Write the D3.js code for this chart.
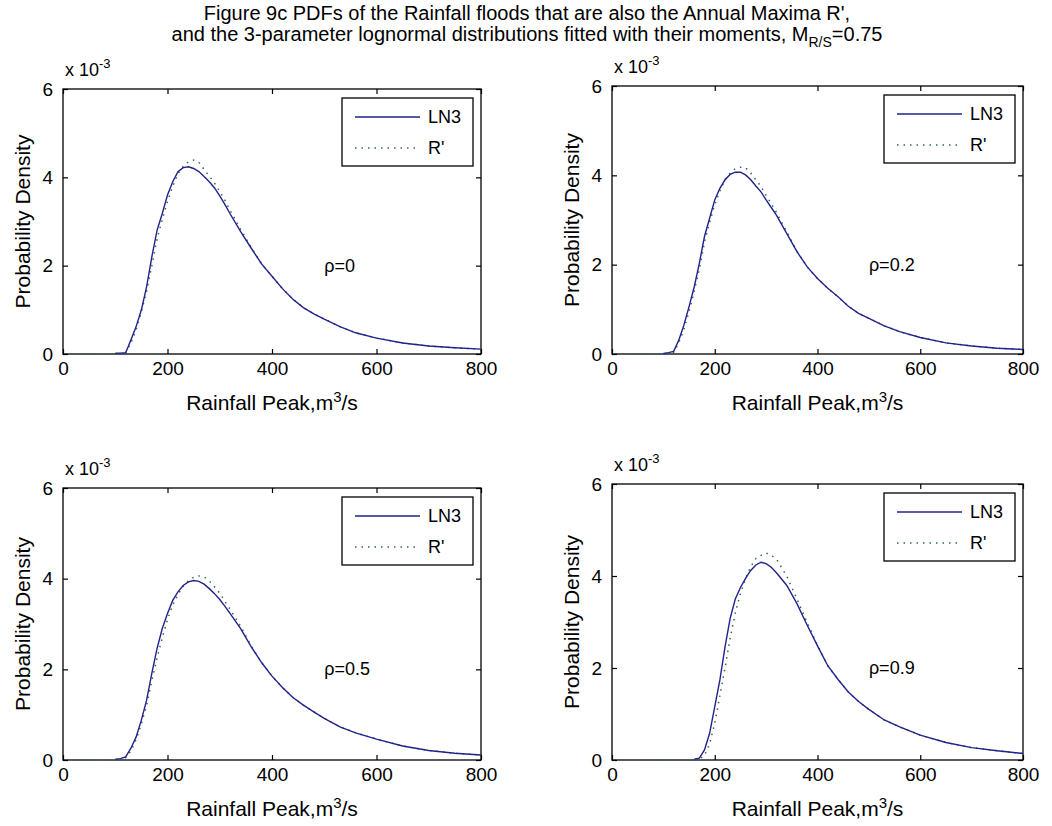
<!DOCTYPE html>
<html>
<head>
<meta charset="utf-8">
<script src="https://cdn.jsdelivr.net/npm/d3@7"></script>
<style>
  html, body { margin: 0; padding: 0; background: #fff; }
  svg { display: block; font-family: "Liberation Sans", Arial, Helvetica, sans-serif; }
</style>
</head>
<body>
<svg id="fig" width="1052" height="826"></svg>
<script>
// Rainfall peak (m^3/s) at which each density value below is given
const peakGrid = [20, 30, 40, 60, 80, 100, 110, 120, 130, 140, 150, 160, 170, 180, 190, 200,
  210, 220, 230, 240, 250, 260, 270, 280, 290, 300, 310, 320, 340, 360, 380, 400,
  420, 440, 460, 480, 500, 530, 560, 600, 650, 700, 750, 800];

// Probability density, in units of 1e-3 (null = not plotted there)
const ln3Rho0 = [null, null, null, null, null, 0.02, 0.02, 0.03, 0.32, 0.62, 1.0, 1.52, 2.2, 2.8, 3.18, 3.6,
  3.9, 4.13, 4.22, 4.24, 4.2, 4.13, 4.02, 3.9, 3.76, 3.58, 3.38, 3.17, 2.77, 2.4, 2.04, 1.76,
  1.48, 1.24, 1.05, 0.91, 0.79, 0.62, 0.48, 0.36, 0.25, 0.18, 0.14, 0.11];
const rPrimeRho0 = [0, 0, 0, 0, 0, 0, 0.01, 0.03, 0.25, 0.55, 0.95, 1.42, 2.0, 2.6, 3.05, 3.45,
  3.8, 4.08, 4.25, 4.35, 4.39, 4.34, 4.18, 4.03, 3.87, 3.68, 3.48, 3.25, 2.82, 2.42, 2.04, 1.76,
  1.48, 1.24, 1.05, 0.91, 0.79, 0.62, 0.48, 0.36, 0.25, 0.18, 0.14, 0.11];

const ln3Rho02 = [null, null, null, null, null, 0.01, 0.03, 0.06, 0.31, 0.65, 1.06, 1.5, 2.03, 2.63, 3.04, 3.45,
  3.71, 3.9, 4.02, 4.07, 4.07, 4.01, 3.9, 3.76, 3.63, 3.45, 3.28, 3.11, 2.7, 2.29, 1.95, 1.69,
  1.47, 1.28, 1.07, 0.91, 0.8, 0.63, 0.5, 0.37, 0.25, 0.18, 0.13, 0.1];
const rPrimeRho02 = [null, 0, 0, 0, 0, 0, 0.01, 0.04, 0.25, 0.55, 0.95, 1.4, 1.9, 2.5, 2.95, 3.35,
  3.65, 3.9, 4.05, 4.15, 4.18, 4.17, 4.05, 3.9, 3.75, 3.55, 3.37, 3.17, 2.74, 2.3, 1.95, 1.69,
  1.47, 1.28, 1.07, 0.91, 0.8, 0.63, 0.5, 0.37, 0.25, 0.18, 0.13, 0.1];

const ln3Rho05 = [null, null, null, null, null, 0.02, 0.03, 0.07, 0.26, 0.51, 0.88, 1.32, 1.91, 2.46, 2.9, 3.23,
  3.52, 3.71, 3.85, 3.93, 3.96, 3.94, 3.88, 3.78, 3.67, 3.54, 3.39, 3.23, 2.9, 2.5, 2.15, 1.85,
  1.6, 1.38, 1.21, 1.06, 0.92, 0.73, 0.6, 0.46, 0.31, 0.21, 0.15, 0.11];
const rPrimeRho05 = [0, 0, 0, 0, 0, 0, 0.01, 0.05, 0.2, 0.45, 0.8, 1.2, 1.75, 2.25, 2.7, 3.1,
  3.42, 3.65, 3.83, 3.95, 4.03, 4.06, 4.04, 3.95, 3.82, 3.68, 3.5, 3.32, 2.95, 2.52, 2.15, 1.85,
  1.6, 1.38, 1.21, 1.06, 0.92, 0.73, 0.6, 0.46, 0.31, 0.21, 0.15, 0.11];

const ln3Rho09 = [null, null, null, null, null, null, null, null, null, null, null, 0.02, 0.04, 0.22, 0.58, 1.16,
  1.74, 2.46, 3.08, 3.5, 3.75, 3.95, 4.12, 4.24, 4.3, 4.27, 4.19, 4.07, 3.8, 3.4, 2.93, 2.48,
  2.05, 1.75, 1.48, 1.27, 1.1, 0.87, 0.72, 0.54, 0.38, 0.27, 0.2, 0.14];
const rPrimeRho09 = [null, null, null, 0, 0, 0, 0, 0, 0, 0, 0, 0, 0.02, 0.1, 0.35, 0.8,
  1.4, 2.0, 2.65, 3.2, 3.62, 3.95, 4.2, 4.38, 4.45, 4.5, 4.45, 4.37, 4.0, 3.5, 2.98, 2.5,
  2.05, 1.75, 1.48, 1.27, 1.1, 0.87, 0.72, 0.54, 0.38, 0.27, 0.2, 0.14];

const rhoLabels = ["ρ=0", "ρ=0.2", "ρ=0.5", "ρ=0.9"];
const seriesNames = ["LN3", "R'"];
const xTicks = [0, 200, 400, 600, 800];
const yTicks = [0, 2, 4, 6];
const xDomain = [0, 800];
const yDomain = [0, 6];
const rhoTextAt = [500, 2];

const ln3Series = [ln3Rho0, ln3Rho02, ln3Rho05, ln3Rho09];
const rPrimeSeries = [rPrimeRho0, rPrimeRho02, rPrimeRho05, rPrimeRho09];

// Panel boxes in pixels (left, right, top, bottom)
const panelBoxes = [
  { l: 63, r: 481, t: 89, b: 354 },
  { l: 612, r: 1023, t: 86, b: 354 },
  { l: 63, r: 481, t: 488, b: 760 },
  { l: 612, r: 1023, t: 484, b: 760 }
];

const LN3_COLOR = "#22228c";
const RP_COLOR = "#3a6650";

const svg = d3.select("#fig");

// Two-line title
const title = svg.append("g").attr("font-size", 20).attr("fill", "#000").attr("text-anchor", "middle");
title.append("text").attr("x", 527).attr("y", 20)
  .text("Figure 9c PDFs of the Rainfall floods that are also the Annual Maxima R',");
const t2 = title.append("text").attr("x", 527).attr("y", 41);
t2.append("tspan").text("and the 3-parameter lognormal distributions fitted with their moments, M");
t2.append("tspan").attr("font-size", 14).attr("dy", 6).text("R/S");
t2.append("tspan").attr("dy", -6).text("=0.75");

panelBoxes.forEach((box, i) => {
  const x = d3.scaleLinear().domain(xDomain).range([box.l, box.r]);
  const y = d3.scaleLinear().domain(yDomain).range([box.b, box.t]);
  const g = svg.append("g");

  // axis frame
  g.append("rect")
    .attr("x", box.l).attr("y", box.t)
    .attr("width", box.r - box.l).attr("height", box.b - box.t)
    .attr("fill", "none").attr("stroke", "#000").attr("stroke-width", 1.3);

  const styleAxis = sel => {
    sel.select(".domain").remove();
    sel.selectAll(".tick line").attr("stroke", "#000").attr("stroke-width", 1.2);
    sel.selectAll(".tick text").attr("font-size", 19).attr("fill", "#000")
      .attr("font-family", "'Liberation Sans', Arial, sans-serif");
  };

  g.append("g").attr("transform", `translate(0,${box.b})`)
    .call(d3.axisBottom(x).tickValues(xTicks).tickSizeInner(-5).tickSizeOuter(0).tickPadding(8).tickFormat(d3.format("d")))
    .call(styleAxis);
  g.append("g").attr("transform", `translate(0,${box.t})`)
    .call(d3.axisTop(x).tickValues(xTicks).tickSizeInner(-5).tickSizeOuter(0).tickFormat(""))
    .call(styleAxis);
  g.append("g").attr("transform", `translate(${box.l},0)`)
    .call(d3.axisLeft(y).tickValues(yTicks).tickSizeInner(-5).tickSizeOuter(0).tickPadding(10).tickFormat(d3.format("d")))
    .call(styleAxis);
  g.append("g").attr("transform", `translate(${box.r},0)`)
    .call(d3.axisRight(y).tickValues(yTicks).tickSizeInner(-5).tickSizeOuter(0).tickFormat(""))
    .call(styleAxis);

  // exponent marker
  const ex = g.append("text").attr("x", box.l + 2).attr("y", box.t - 13).attr("font-size", 18);
  ex.append("tspan").text("x 10");
  ex.append("tspan").attr("font-size", 13).attr("dy", -8).text("-3");

  // axis labels
  const xl = g.append("text").attr("x", (box.l + box.r) / 2).attr("y", box.b + 56)
    .attr("text-anchor", "middle").attr("font-size", 21);
  xl.append("tspan").text("Rainfall Peak,m");
  xl.append("tspan").attr("font-size", 15).attr("dy", -8).text("3");
  xl.append("tspan").attr("dy", 8).text("/s");

  g.append("text")
    .attr("transform", `translate(${box.l - 33},${(box.t + box.b) / 2}) rotate(-90)`)
    .attr("text-anchor", "middle").attr("font-size", 21)
    .text("Probability Density");

  // curves
  const line = d3.line()
    .defined(d => d[1] !== null)
    .x(d => x(d[0])).y(d => y(d[1]));
  const ln3Pts = peakGrid.map((p, k) => [p, ln3Series[i][k]]);
  const rpPts = peakGrid.map((p, k) => [p, rPrimeSeries[i][k]]);

  g.append("path").datum(rpPts).attr("d", line)
    .attr("fill", "none").attr("stroke", RP_COLOR).attr("stroke-width", 1.5)
    .attr("stroke-dasharray", "1.5,5");
  g.append("path").datum(ln3Pts).attr("d", line)
    .attr("fill", "none").attr("stroke", LN3_COLOR).attr("stroke-width", 1.4);

  // rho annotation
  g.append("text").attr("x", x(rhoTextAt[0])).attr("y", y(rhoTextAt[1]))
    .attr("dominant-baseline", "central").attr("font-size", 18)
    .text(rhoLabels[i]);

  // legend
  const lw = 131, lh = 68;
  const lx = box.r - 8 - lw, ly = box.t + 9;
  const lg = g.append("g");
  lg.append("rect").attr("x", lx).attr("y", ly).attr("width", lw).attr("height", lh)
    .attr("fill", "#fff").attr("stroke", "#000").attr("stroke-width", 1.3);
  const rows = [
    { name: seriesNames[0], color: LN3_COLOR, dash: null },
    { name: seriesNames[1], color: RP_COLOR, dash: "1.5,5" }
  ];
  rows.forEach((row, k) => {
    const yy = ly + 19 + k * 31;
    lg.append("line").attr("x1", lx + 13).attr("x2", lx + 78).attr("y1", yy).attr("y2", yy)
      .attr("stroke", row.color).attr("stroke-width", 1.4)
      .attr("stroke-dasharray", row.dash);
    lg.append("text").attr("x", lx + 86).attr("y", yy).attr("dominant-baseline", "central")
      .attr("font-size", 18).text(row.name);
  });
});
</script>
</body>
</html>
